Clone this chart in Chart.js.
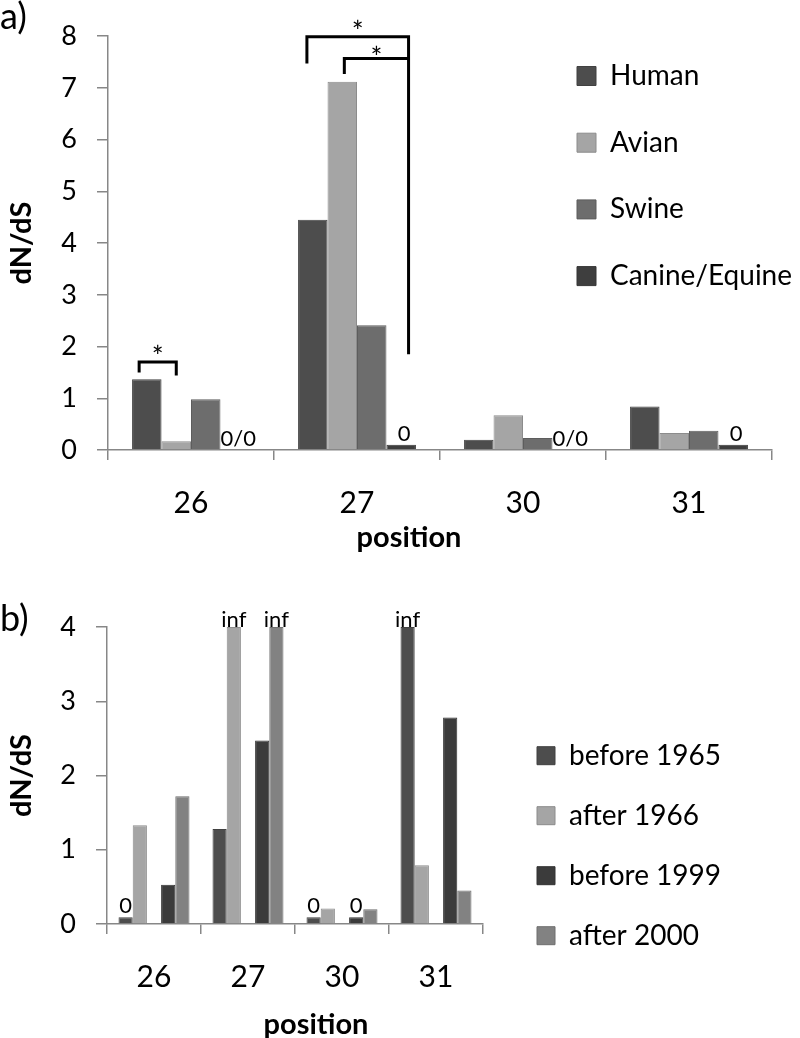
<!DOCTYPE html>
<html lang="en">
<head>
<meta charset="UTF-8">
<title>dN/dS per position</title>
<script src="https://cdn.jsdelivr.net/npm/chart.js"></script>
<style>
  body { margin: 0; background: #fff; font-family: Lato, sans-serif; }
  .figure { position: relative; width: 800px; height: 1038px; overflow: hidden; }
  .panel { position: absolute; left: 0; width: 800px; }
  .panel canvas { display: block; }
  #panelA { top: 0; height: 560px; }
  #panelB { top: 560px; height: 478px; }
  .tag { position: absolute; left: 0; font-size: 36px; line-height: 1; color: #000; }
</style>
</head>
<body>
<div class="figure">
  <div class="panel" id="panelA"><canvas id="chartA" width="800" height="560"></canvas></div>
  <div class="panel" id="panelB"><canvas id="chartB" width="800" height="478"></canvas></div>
  <div class="tag" style="top:-3px">a)</div>
  <div class="tag" style="top:599px">b)</div>
</div>
<script>
// ---- data ----
const positions = ['26', '27', '30', '31'];

// a) by host
const hostNames = ['Human', 'Avian', 'Swine', 'Canine/Equine'];
const human  = [1.37, 4.45, 0.20, 0.84];
const avian  = [0.17, 7.12, 0.67, 0.33];
const swine  = [0.98, 2.41, 0.23, 0.37];
const canine = [0, 0.1, 0, 0.1];
const canineNotes = ['0/0', '0', '0/0', '0'];

// significance brackets in a): category, the two series, heights (dN/dS units)
const brackets = [
  { cat: 0, from: 0, to: 1, top: 1.70, legFrom: 1.50, legTo: 1.44 },
  { cat: 1, from: 0, to: 3, top: 7.99, legFrom: 7.47, legTo: 1.85 },
  { cat: 1, from: 1, to: 3, top: 7.57, legFrom: 7.27, legTo: null }
];

// b) by period
const periodNames = ['before 1965', 'after 1966', 'before 1999', 'after 2000'];
const before1965 = [0.09, 1.28, 0.09, 4];
const after1966  = [1.33, 4, 0.21, 0.79];
const before1999 = [0.53, 2.47, 0.09, 2.78];
const after2000  = [1.72, 4, 0.20, 0.45];
const before1965Notes = ['0', '', '0', 'inf'];
const after1966Notes  = ['', 'inf', '', ''];
const before1999Notes = ['', '', '0', ''];
const after2000Notes  = ['', 'inf', '', ''];

// ---- styling ----
const hostColors   = ['#4d4d4d', '#a5a5a5', '#6d6d6d', '#3e3e3e'];
const periodColors = ['#4d4d4d', '#a5a5a5', '#3b3b3b', '#828282'];
const axisGrey = '#878787';

Chart.defaults.font.family = 'Lato, "Liberation Sans", sans-serif';
Chart.defaults.color = '#000';

function darker(hex) {
  const n = parseInt(hex.slice(1), 16);
  const c = [n >> 16, (n >> 8) & 255, n & 255].map(v => Math.round(v * 0.85));
  return 'rgb(' + c.join(',') + ')';
}

function barSet(label, data, color, notes) {
  return { label, data, backgroundColor: color, borderColor: darker(color), borderWidth: 1, notes };
}

function scalesFor(yMax, yWidth, xHeight) {
  return {
    x: {
      offset: true,
      grid: { offset: true, drawOnChartArea: false, tickLength: 10, color: axisGrey, lineWidth: 1.5 },
      border: { color: axisGrey, width: 1.5 },
      ticks: { font: { size: 30 }, padding: 25, color: '#000' },
      afterFit: s => { s.height = xHeight; }
    },
    y: {
      min: 0, max: yMax,
      grid: { drawOnChartArea: false, tickLength: 11, color: axisGrey, lineWidth: 1.5 },
      border: { color: axisGrey, width: 1.5 },
      ticks: { stepSize: 1, font: { size: 27 }, padding: 20, color: '#000' },
      title: { display: true, text: 'dN/dS', color: '#000',
               font: { size: 29, weight: 'bold' }, padding: { top: 4, bottom: 0 } },
      afterFit: s => { s.width = yWidth; }
    }
  };
}

function legendFor(box, pad) {
  return {
    position: 'chartArea',
    align: 'start',
    labels: {
      font: { size: 28 }, color: '#000', boxWidth: box, boxHeight: box,
      padding: pad, textAlign: 'left',
      filter: item => item.text !== ''
    }
  };
}

// put the legend where it sits in the figure (inside the plot, to the right)
const moveLegend = {
  id: 'moveLegend',
  afterLayout(chart, args, opts) {
    const lg = chart.legend;
    const w = lg.width;
    lg.left = opts.left;
    lg.right = opts.left + w;
    lg.top = opts.top;
    lg.bottom = opts.top + 400;
    lg.height = 400;
  }
};

// value notes above bars, significance brackets, x axis title
const bracketDx = [[-0.26, 0], [-0.2, 0.25], [0.07, 0.25]];
const starLift = [5, 5, 10];

const annotate = {
  id: 'annotate',
  afterDraw(chart, args, opts) {
    const ctx = chart.ctx;
    const ys = chart.scales.y;
    ctx.save();
    ctx.fillStyle = '#000';
    ctx.strokeStyle = '#000';
    ctx.textAlign = 'center';
    ctx.textBaseline = 'alphabetic';
    ctx.font = '22px Lato';
    chart.data.datasets.forEach((ds, i) => {
      if (!ds.notes) return;
      chart.getDatasetMeta(i).data.forEach((bar, j) => {
        const t = ds.notes[j];
        if (!t) return;
        const gap = t === 'inf' ? 0 : 4;
        ctx.fillText(t, bar.x + (opts.noteDx || 0), bar.y - gap);
      });
    });
    if (opts.brackets) {
      ctx.lineWidth = 3;
      ctx.lineJoin = 'miter';
      ctx.font = '28px Lato';
      opts.brackets.forEach((b, k) => {
        const m1 = chart.getDatasetMeta(b.from).data[b.cat];
        const m2 = chart.getDatasetMeta(b.to).data[b.cat];
        const x1 = m1.x + bracketDx[k][0] * m1.width;
        const x2 = m2.x + bracketDx[k][1] * m2.width;
        const yt = ys.getPixelForValue(b.top);
        ctx.beginPath();
        ctx.moveTo(x1, ys.getPixelForValue(b.legFrom));
        ctx.lineTo(x1, yt);
        ctx.lineTo(x2, yt);
        if (b.legTo !== null) ctx.lineTo(x2, ys.getPixelForValue(b.legTo));
        ctx.stroke();
        ctx.fillText('*', (x1 + x2) / 2, yt + starLift[k]);
      });
    }
    ctx.font = 'bold 29px Lato';
    ctx.fillText('position', opts.titleX, opts.titleY);
    ctx.restore();
  }
};

new Chart(document.getElementById('chartA'), {
  type: 'bar',
  data: {
    labels: positions,
    datasets: [
      barSet(hostNames[0], human, hostColors[0]),
      barSet(hostNames[1], avian, hostColors[1]),
      barSet(hostNames[2], swine, hostColors[2]),
      barSet(hostNames[3], canine, hostColors[3], canineNotes)
    ]
  },
  options: {
    responsive: false,
    animation: false,
    events: [],
    datasets: { bar: { categoryPercentage: 0.71, barPercentage: 1 } },
    layout: { padding: { top: 23, right: 28, bottom: 40, left: 0 } },
    scales: scalesFor(8, 108, 70),
    plugins: {
      legend: legendFor(19, 38.7),
      tooltip: { enabled: false },
      moveLegend: { left: 538.3, top: 23.3 },
      annotate: { brackets: brackets, noteDx: 3, titleX: 409, titleY: 547 }
    }
  },
  plugins: [moveLegend, annotate]
});

new Chart(document.getElementById('chartB'), {
  type: 'bar',
  data: {
    labels: positions,
    datasets: [
      barSet(periodNames[0], before1965, periodColors[0], before1965Notes),
      barSet(periodNames[1], after1966, periodColors[1], after1966Notes),
      { label: '', data: [null, null, null, null], backgroundColor: 'rgba(0,0,0,0)', borderWidth: 0 },
      barSet(periodNames[2], before1999, periodColors[2], before1999Notes),
      barSet(periodNames[3], after2000, periodColors[3], after2000Notes)
    ]
  },
  options: {
    responsive: false,
    animation: false,
    events: [],
    datasets: { bar: { categoryPercentage: 0.755, barPercentage: 1 } },
    layout: { padding: { top: 67, right: 317, bottom: 44, left: 0 } },
    scales: scalesFor(4, 107, 70),
    plugins: {
      legend: legendFor(18, 32),
      tooltip: { enabled: false },
      moveLegend: { left: 505, top: 149.7 },
      annotate: { noteDx: 0, titleX: 316, titleY: 474 }
    }
  },
  plugins: [moveLegend, annotate]
});
</script>
</body>
</html>
